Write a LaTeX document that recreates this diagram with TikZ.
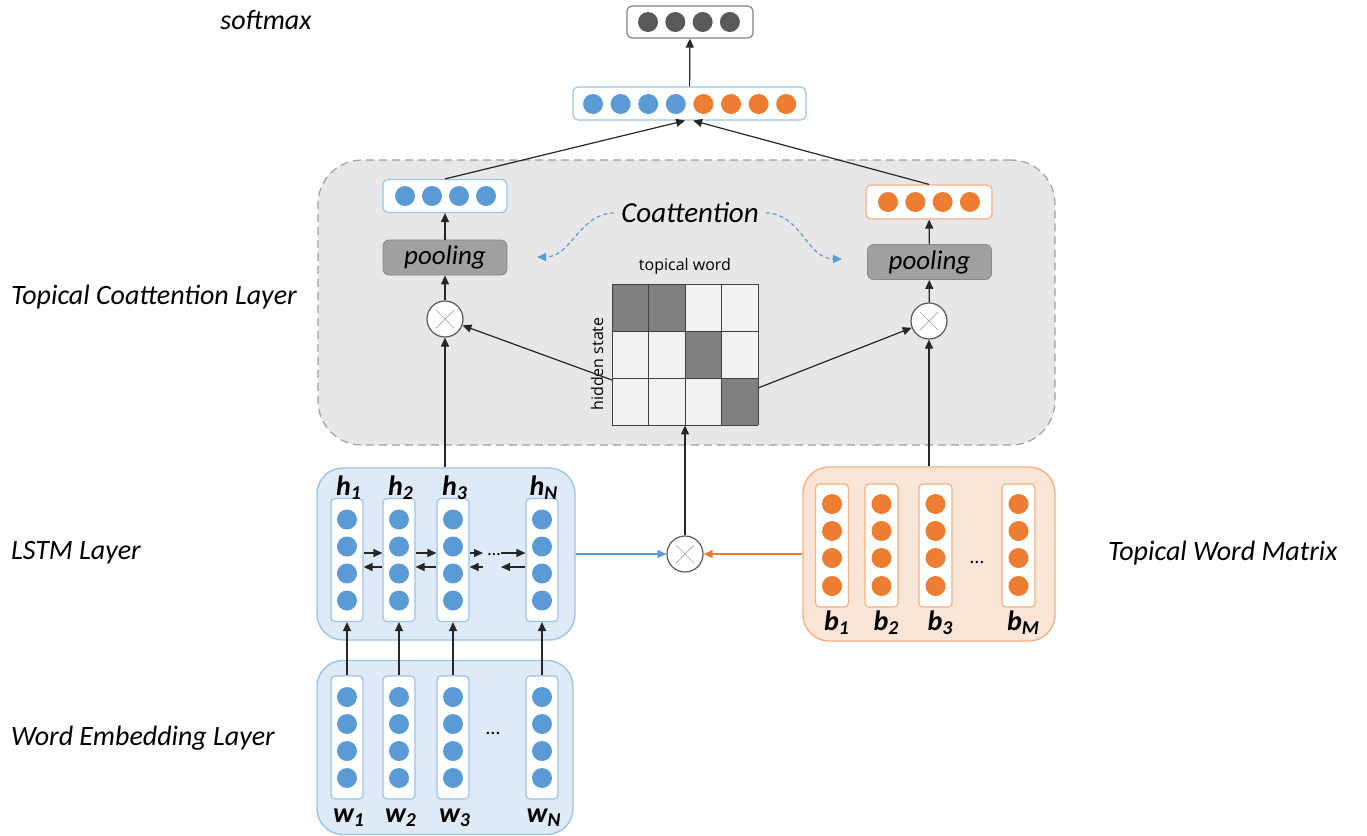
\documentclass[tikz,border=0pt]{standalone}
\usepackage{fontspec}
\setmainfont{Carlito}
\newfontfamily\petitsans{Open Sans}
\definecolor{bleu}{RGB}{91,155,213}
\definecolor{bleulight}{RGB}{222,235,247}
\definecolor{bleumed}{RGB}{157,195,230}
\definecolor{orng}{RGB}{237,125,49}
\definecolor{orngpale}{RGB}{251,229,214}
\definecolor{orngmed}{RGB}{244,177,131}
\definecolor{gris}{RGB}{231,231,231}
\definecolor{grismed}{RGB}{160,160,160}
\definecolor{grisfonce}{RGB}{89,89,89}
\usetikzlibrary{arrows.meta,positioning,calc}

\begin{document}
\begin{tikzpicture}[x=0.5pt,y=-0.5pt,>={Triangle[length=4.5pt,width=4pt]},
	dot/.style={circle,inner sep=0pt,minimum size=10pt},
	bdot/.style={dot,fill=bleu},
	odot/.style={dot,fill=orng},
	gdot/.style={dot,fill=grisfonce},
	bcol/.style={draw=bleumed,fill=white,rounded corners=2pt,inner sep=0pt,
		minimum width=16pt,minimum height=61.5pt,line width=0.6pt},
	ocol/.style={bcol,draw=orngmed,minimum width=16.5pt},
	vec/.style={fill=white,rounded corners=2.5pt,inner sep=0pt,line width=0.6pt,
		minimum width=62pt,minimum height=16.5pt},
	pool/.style={draw=grismed!85!black,fill=grismed,rounded corners=3pt,inner sep=0pt,
		minimum width=62pt,minimum height=17.5pt,font=\fontsize{13.5}{15}\selectfont\itshape},
	mult/.style={circle,draw=grisfonce,fill=white,minimum size=18pt,inner sep=0pt,line width=0.6pt,
		path picture={\draw[gray!70,line width=0.35pt]
			($(path picture bounding box.center)+(-4.5pt,-4.5pt)$)--($(path picture bounding box.center)+(4.5pt,4.5pt)$)
			($(path picture bounding box.center)+(-4.5pt,4.5pt)$)--($(path picture bounding box.center)+(4.5pt,-4.5pt)$);}},
	lay/.style={rounded corners=13pt,line width=0.7pt,inner sep=0pt},
	lbl/.style={font=\fontsize{14}{16}\selectfont\itshape},
	idx/.style={font=\fontsize{14}{16}\selectfont\bfseries\itshape,inner sep=0pt},
	fl/.style={->,line width=0.6pt,black!85},
	cell/.style={fill=gray!10},
	dcell/.style={fill=gray}]
	\useasboundingbox (0,0) rectangle (1367,836);

	% coattention zone
	\node[draw=grismed,dash pattern=on 4pt off 2.5pt,fill=gris,rounded corners=22pt,line width=0.6pt,
	minimum width=368.5pt,minimum height=142.5pt](zone) at (686.5,302.5){};

	% layer names
	\node[lbl,anchor=center](lsm) at (266,20){softmax};
	\node[lbl,anchor=west](ltc) at (4,297){Topical Coattention Layer};
	\node[lbl,anchor=west](llstm) at (4,553){LSTM Layer};
	\node[lbl,anchor=west](lwe) at (4,738){Word Embedding Layer};
	\node[lbl,anchor=west](ltw) at (1101,553){Topical Word Matrix};

	% output
	\node[vec,draw=grismed!80!black,minimum width=63pt,minimum height=16pt](sm) at (690,22){};
	\foreach \i in {0,...,3} \node[gdot] at (648+27.3*\i,22){};
	\node[vec,draw=bleumed,minimum width=116.5pt](cat) at (689.5,103.5){};
	\foreach \i in {0,...,3} \node[bdot] at (593+27.6*\i,104){};
	\foreach \i in {4,...,7} \node[odot] at (593+27.6*\i,104){};
	\draw[fl](cat)--(sm);

	% coattention
	\node[vec,draw=bleumed](vl) at (445,196){};
	\foreach \i in {0,...,3} \node[bdot] at (405+27*\i,196){};
	\node[vec,draw=orngmed,minimum width=63pt,minimum height=17pt](vr) at (929,202){};
	\foreach \i in {0,...,3} \node[odot] at (888+27.3*\i,202){};
	\node[pool](pl) at (445,257.5){pooling};
	\node[pool](pr) at (929.5,262){pooling};
	\node[mult](ml) at (445,319){};
	\node[mult](mr) at (929,321){};
	\draw[fl](vl.north)--([xshift=-2.2pt]cat.south);
	\draw[fl](vr.north)--([xshift=1.8pt]cat.south);
	\draw[fl](pl)--(vl); \draw[fl](pr)--(vr);
	\draw[fl](ml)--(pl); \draw[fl](mr)--(pr);

	\node[font=\fontsize{14.5}{16}\selectfont\itshape](coat) at (690,213){Coattention};
	\coordinate (cgl) at (537,257);
	\coordinate (cgr) at (842,259);
	\draw[->,bleu,dash pattern=on 2pt off 1.5pt,line width=0.6pt](coat.west) to[out=180,in=0] (cgl);
	\draw[->,bleu,dash pattern=on 2pt off 1.5pt,line width=0.6pt](coat.east) to[out=0,in=180] (cgr);

	% attention matrix
	\node[minimum width=73pt,minimum height=70.5pt,inner sep=0pt](att) at (685,354.5){};
	\fill[cell](612,284) rectangle (758,425);
	\fill[dcell](612,284) rectangle (685,331);
	\fill[dcell](685,331) rectangle (721.5,378);
	\fill[dcell](721.5,378) rectangle (758,425);
	\foreach \x in {612,648.5,685,721.5,758} \draw[black!75,line width=0.5pt](\x,284)--(\x,425);
	\foreach \y in {284,331,378,425} \draw[black!75,line width=0.5pt](612,\y)--(758,\y);
	\node[font=\petitsans\fontsize{8}{9}\selectfont](tword) at (685,266){topical word};
	\node[font=\petitsans\fontsize{8}{9}\selectfont,rotate=90](hstate) at (597,364){hidden state};
	\coordinate (al) at (612,380);
	\coordinate (ar) at (758,388);
	\draw[fl](al)--(ml);
	\draw[fl](ar)--(mr);

	% LSTM layer
	\node[lay,draw=bleumed,fill=bleulight,minimum width=129pt,minimum height=86pt](lstm) at (446,554){};
	\foreach \x/\n/\t in {347/1/1,399/2/2,453/3/3,542/4/N}{
		\node[bcol](c\n) at (\x,560){};
		\foreach \y in {-40.5,-13.5,13.5,40.5} \node[bdot] at (\x,560+\y){};
		\node[idx](h\n) at (\x+2,488){h\textsubscript{\t}};
	}
	\coordinate (d3) at (483,560);
	\coordinate (d4) at (501,560);
	\node[inner sep=0pt,font=\fontsize{9}{9}\selectfont](dl) at (494,555){…};
	\draw[fl]([yshift=3.5pt]c1.east)--([yshift=3.5pt]c2.west);
	\draw[fl]([yshift=-3.5pt]c2.west)--([yshift=-3.5pt]c1.east);
	\draw[fl]([yshift=3.5pt]c2.east)--([yshift=3.5pt]c3.west);
	\draw[fl]([yshift=-3.5pt]c3.west)--([yshift=-3.5pt]c2.east);
	\draw[fl]([yshift=3.5pt]c3.east)--([yshift=3.5pt]d3);
	\draw[fl]([yshift=3.5pt]d4)--([yshift=3.5pt]c4.west);
	\draw[fl]([yshift=-3.5pt]c4.west)--([yshift=-3.5pt]d4);
	\draw[fl]([yshift=-3.5pt]d3)--([yshift=-3.5pt]c3.east);

	% word embeddings
	\node[lay,draw=bleumed,fill=bleulight,minimum width=128pt,minimum height=87pt](emb) at (445,747.5){};
	\foreach \x/\n/\t in {347/1/1,399/2/2,453/3/3,542/4/N}{
		\node[bcol](e\n) at (\x,737.5){};
		\foreach \y in {-40.5,-13.5,13.5,40.5} \node[bdot] at (\x,737.5+\y){};
		\node[idx](w\n) at (\x+2,818){w\textsubscript{\t}};
		\draw[fl](e\n.north)--(c\n.south);
	}
	\node[inner sep=0pt](de) at (493,733){…};

	% topical words
	\node[lay,draw=orngmed,fill=orngpale,minimum width=126pt,minimum height=87pt](tw) at (929,554){};
	\foreach \x/\n/\t in {832/1/1,881.5/2/2,935.5/3/3,1018.5/4/M}{
		\node[ocol](b\n) at (\x,545.5){};
		\foreach \y in {-41.5,-14.5,12.5,40.5} \node[odot] at (\x,545.5+\y){};
		\node[idx](bl\n) at (\x+5,623){b\textsubscript{\t}};
	}
	\node[inner sep=0pt](dt) at (977,562){…};

	% topic-aware interaction
	\node[mult](mm) at (685,554){};
	\draw[->,bleu,line width=0.6pt](lstm.east)--(mm);
	\draw[->,orng,line width=0.6pt](tw.west)--(mm);
	\draw[fl](mm)--(att);
	\draw[fl](ml|-lstm.north)--(ml);
	\draw[fl](mr|-tw.north)--(mr);
\end{tikzpicture}
\end{document}
